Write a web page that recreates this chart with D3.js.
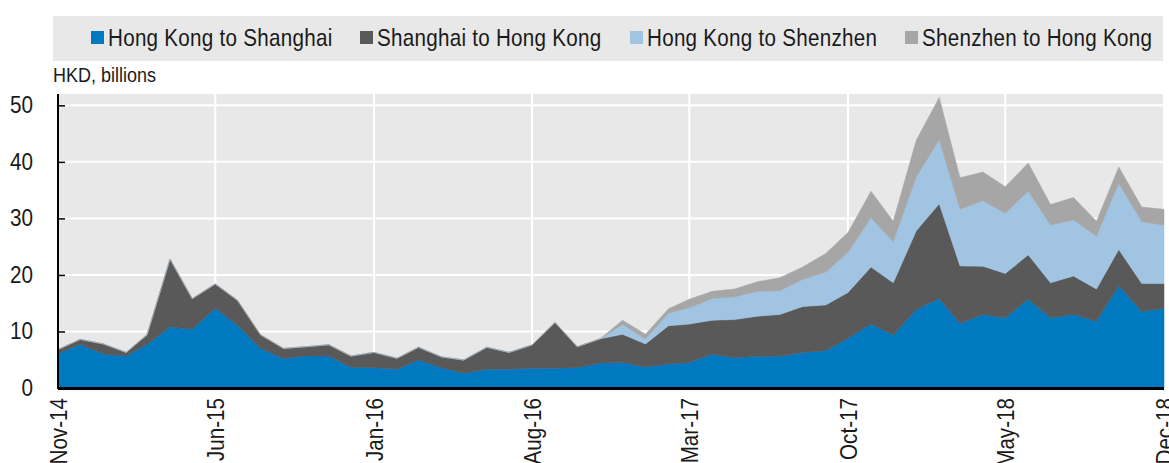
<!DOCTYPE html>
<html>
<head>
<meta charset="utf-8">
<script src="https://cdn.jsdelivr.net/npm/d3@7"></script>
<style>
  body { margin: 0; background: #fff; }
  svg text { font-family: "Liberation Sans", Arial, sans-serif; fill: #1a1a1a; }
</style>
</head>
<body>
<div id="chart"></div>
<script>
// monthly turnover, HKD billions, Nov-14 .. Dec-18
const seriesNames = ['Hong Kong to Shanghai', 'Shanghai to Hong Kong', 'Hong Kong to Shenzhen', 'Shenzhen to Hong Kong'];
const seriesColors = ['#0079c1', '#595959', '#a0c4e2', '#a6a6a6'];

const hkToSh = [6.1, 7.7, 6.0, 5.65, 7.7, 10.8, 10.4, 14.1, 11.1, 7.0,
  5.2, 5.65, 5.65, 3.65, 3.6, 3.3, 4.95, 3.6, 2.6, 3.3,
  3.3, 3.5, 3.5, 3.6, 4.4, 4.5, 3.7, 4.25, 4.5, 5.95,
  5.35, 5.6, 5.6, 6.3, 6.6, 8.8, 11.3, 9.35, 13.9, 15.8,
  11.4, 13.0, 12.4, 15.7, 12.4, 13.0, 11.8, 18.1, 13.5, 14.1];
const shToHk = [0.7, 0.9, 1.8, 0.65, 1.7, 12.0, 5.4, 4.3, 4.4, 2.4,
  1.8, 1.65, 2.0, 2.0, 2.7, 1.95, 2.25, 1.9, 2.35, 3.9,
  3.0, 4.1, 8.1, 3.7, 4.3, 5.0, 4.1, 6.75, 6.8, 6.05,
  6.75, 7.1, 7.4, 8.1, 8.1, 8.1, 10.1, 9.25, 13.9, 16.8,
  10.2, 8.55, 7.85, 7.85, 6.2, 6.8, 5.7, 6.4, 5.0, 4.4];
const hkToSz = [0, 0, 0, 0, 0, 0, 0, 0, 0, 0,
  0, 0, 0, 0, 0, 0, 0, 0, 0, 0,
  0, 0, 0, 0, 0, 1.75, 0.85, 2.2, 2.9, 3.85,
  4.0, 4.4, 4.2, 4.8, 5.8, 7.1, 8.7, 7.25, 9.5, 11.3,
  10.0, 11.55, 10.65, 11.25, 10.25, 9.9, 9.35, 11.7, 10.9, 10.3];
const szToHk = [0, 0, 0, 0, 0, 0, 0, 0, 0, 0,
  0, 0, 0, 0, 0, 0, 0, 0, 0, 0,
  0, 0, 0, 0, 0, 0.75, 0.85, 0.8, 1.5, 1.25,
  1.4, 1.7, 2.3, 2.2, 3.3, 3.5, 4.7, 3.65, 6.5, 7.5,
  5.6, 5.1, 4.7, 5.0, 3.6, 4.0, 2.65, 2.9, 2.6, 2.8];

const months = d3.timeMonth.range(new Date(2014, 10, 1), new Date(2019, 0, 1));
const xTickLabels = ['Nov-14', 'Jun-15', 'Jan-16', 'Aug-16', 'Mar-17', 'Oct-17', 'May-18', 'Dec-18'];
const yTicks = [0, 10, 20, 30, 40, 50];

const data = months.map((date, i) => ({
  date: date,
  s0: hkToSh[i],
  s1: shToHk[i],
  s2: hkToSz[i],
  s3: szToHk[i]
}));

const W = 1169, H = 463;
const margin = { top: 94, right: 5, bottom: 75, left: 58 };
const width = W - margin.left - margin.right;
const height = H - margin.top - margin.bottom;
const narrow = 0.86; // condensed look, no narrow face installed

const svg = d3.select('#chart').append('svg')
  .attr('width', W)
  .attr('height', H);

// legend
const legend = svg.append('g');
legend.append('rect')
  .attr('x', 53).attr('y', 16)
  .attr('width', 1110).attr('height', 45)
  .attr('fill', '#e8e8e8');
const legendX = [91, 360, 630, 905];
seriesNames.forEach((name, i) => {
  const g = legend.append('g').attr('transform', `translate(${legendX[i]}, 0)`);
  g.append('rect').attr('x', 0).attr('y', 31).attr('width', 13).attr('height', 13).attr('fill', seriesColors[i]);
  g.append('text')
    .attr('transform', `translate(17, 46) scale(${narrow}, 1)`)
    .style('font-size', '24px')
    .style('letter-spacing', '0.3px')
    .text(name);
});

svg.append('text')
  .attr('transform', 'translate(53, 82) scale(0.9, 1)')
  .style('font-size', '20px')
  .text('HKD, billions');

const plot = svg.append('g').attr('transform', `translate(${margin.left}, ${margin.top})`);

const xScale = d3.scaleTime()
  .domain(d3.extent(months))
  .range([0, width]);
const yScale = d3.scaleLinear()
  .domain([0, 52])
  .range([height, 0]);

const xTickValues = months.filter(d => xTickLabels.includes(d3.timeFormat('%b-%y')(d)));

// background + grid
plot.append('rect').attr('width', width).attr('height', height).attr('fill', '#e8e8e8');
plot.selectAll('.hgrid').data(yTicks.slice(1)).enter().append('line')
  .attr('x1', 0).attr('x2', width)
  .attr('y1', d => yScale(d)).attr('y2', d => yScale(d))
  .attr('stroke', '#fff').attr('stroke-width', 2);
plot.selectAll('.vgrid').data(xTickValues).enter().append('line')
  .attr('x1', d => xScale(d)).attr('x2', d => xScale(d))
  .attr('y1', 0).attr('y2', height)
  .attr('stroke', '#fff').attr('stroke-width', 2);

// stacked areas
const stack = d3.stack().keys(['s0', 's1', 's2', 's3']);
const layers = stack(data);
const area = d3.area()
  .x(d => xScale(d.data.date))
  .y0(d => yScale(d[0]))
  .y1(d => yScale(d[1]));
plot.selectAll('.layer').data(layers).enter().append('path')
  .attr('d', area)
  .attr('fill', (d, i) => seriesColors[i])
  .attr('stroke', (d, i) => seriesColors[i])
  .attr('stroke-width', 0.5);

// axes
const yAxis = plot.append('g')
  .call(d3.axisRight(yScale).tickValues(yTicks).tickSize(7).tickFormat(d3.format('d')));
yAxis.select('.domain').remove();
yAxis.selectAll('.tick line').attr('stroke', '#000').attr('stroke-width', 1.5);
yAxis.selectAll('.tick text')
  .attr('x', -25).attr('text-anchor', 'end')
  .style('font-size', '23px')
  .attr('transform', 'scale(0.9, 1)')
  .attr('x', -25 / 0.9);
plot.append('line').attr('x1', 0).attr('x2', 0).attr('y1', 0).attr('y2', height + 1)
  .attr('stroke', '#000').attr('stroke-width', 2);

const xAxis = plot.append('g')
  .attr('transform', `translate(0, ${height})`)
  .call(d3.axisBottom(xScale).tickValues(xTickValues).tickSize(0).tickFormat(d3.timeFormat('%b-%y')));
xAxis.select('.domain').remove();
xAxis.selectAll('.tick text')
  .attr('transform', `rotate(-90) scale(${narrow}, 1)`)
  .attr('x', -10 / narrow).attr('y', 0).attr('dy', '0.35em')
  .attr('text-anchor', 'end')
  .style('font-size', '24px');
plot.append('line').attr('x1', 0).attr('x2', width).attr('y1', height + 0.5).attr('y2', height + 0.5)
  .attr('stroke', '#000').attr('stroke-width', 3);
</script>
</body>
</html>
